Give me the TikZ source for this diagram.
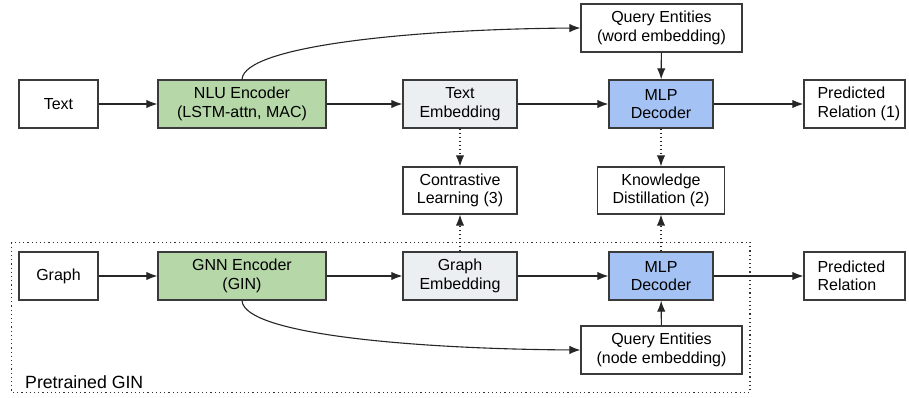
\documentclass[tikz,border=0pt]{standalone}
\usepackage{fontspec}
\setmainfont{Liberation Sans}
\usetikzlibrary{arrows.meta,calc}
\definecolor{encgreen}{HTML}{B6D7A8}
\definecolor{decblue}{HTML}{A4C2F4}
\definecolor{embgray}{HTML}{ECEFF1}
\definecolor{edge}{HTML}{3A3A3A}
\tikzset{
  box/.style={draw=edge, line width=1.3pt, fill=white, inner sep=0pt, align=center,
    minimum height=48pt, font=\fontsize{16}{18.5}\selectfont},
  enc/.style={box, fill=encgreen},
  dec/.style={box, fill=decblue},
  emb/.style={box, fill=embgray},
  conn/.style={line width=1.1pt, draw=black!85, -{Latex[length=11pt,width=8.5pt]}},
  dconn/.style={conn, dash pattern=on 1pt off 3pt},
  txt/.style={inner sep=0pt, align=left, font=\fontsize{16}{18.5}\selectfont}
}
\begin{document}
\begin{tikzpicture}[x=1pt,y=-1pt]
\useasboundingbox (0,0) rectangle (909,398);
% frame
\draw[draw=black!80, line width=1.2pt, dash pattern=on 1.2pt off 3pt] (11.7,242.3) rectangle (750,392.3);
\node[txt, anchor=west, font=\fontsize{17.7}{20}\selectfont] (pg) at (25,382.5) {Pretrained GIN};
% top row
\node[box, minimum width=79pt] (text) at (58.5,104) {Text};
\node[enc, minimum width=168pt] (nlu) at (242,104) {NLU Encoder\\(LSTM-attn, MAC)};
\node[emb, minimum width=114pt] (temb) at (460,104) {Text\\Embedding};
\node[box, minimum width=161pt] (qw) at (661.5,28) {Query Entities\\(word embedding)};
\node[dec, minimum width=104pt] (mlp1) at (661,104) {MLP\\Decoder};
\node[box, minimum width=101pt] (pr1) at (854.5,104) {};
\node[txt, anchor=west] (pr1t) at ([xshift=14pt]pr1.west) {Predicted\\Relation (1)};
% middle row
\node[box, minimum width=114pt, minimum height=47pt] (cl) at (460,190.5) {Contrastive\\Learning (3)};
\node[box, minimum width=127pt, minimum height=47pt] (kd) at (661,190.5) {Knowledge\\Distillation (2)};
% bottom row
\node[box, minimum width=79pt] (graph) at (58.5,276) {Graph};
\node[enc, minimum width=168pt] (gnn) at (242,276) {GNN Encoder\\(GIN)};
\node[emb, minimum width=114pt] (gemb) at (460,276) {Graph\\Embedding};
\node[dec, minimum width=104pt] (mlp2) at (661,276) {MLP\\Decoder};
\node[box, minimum width=101pt] (pr2) at (854.5,276) {};
\node[txt, anchor=west] (pr2t) at ([xshift=14pt]pr2.west) {Predicted\\Relation};
\node[box, minimum width=161pt] (qn) at (661.5,350) {Query Entities\\(node embedding)};
% connectors top
\draw[conn] (text) -- (nlu);
\draw[conn] (nlu) -- (temb);
\draw[conn] (temb) -- (mlp1);
\draw[conn] (mlp1) -- (pr1);
\draw[conn] (qw) -- (mlp1);
\draw[conn] (nlu.north) .. controls (244,45) and (420,29) .. (qw.west);
% connectors bottom
\draw[conn] (graph) -- (gnn);
\draw[conn] (gnn) -- (gemb);
\draw[conn] (gemb) -- (mlp2);
\draw[conn] (mlp2) -- (pr2);
\draw[conn] (qn) -- (mlp2);
\draw[conn] (gnn.south) .. controls (244,335) and (420,349) .. (qn.west);
% dotted
\draw[dconn] (temb) -- (cl);
\draw[dconn] (gemb) -- (cl);
\draw[dconn] (mlp1) -- (kd);
\draw[dconn] (mlp2) -- (kd);
\end{tikzpicture}
\end{document}
